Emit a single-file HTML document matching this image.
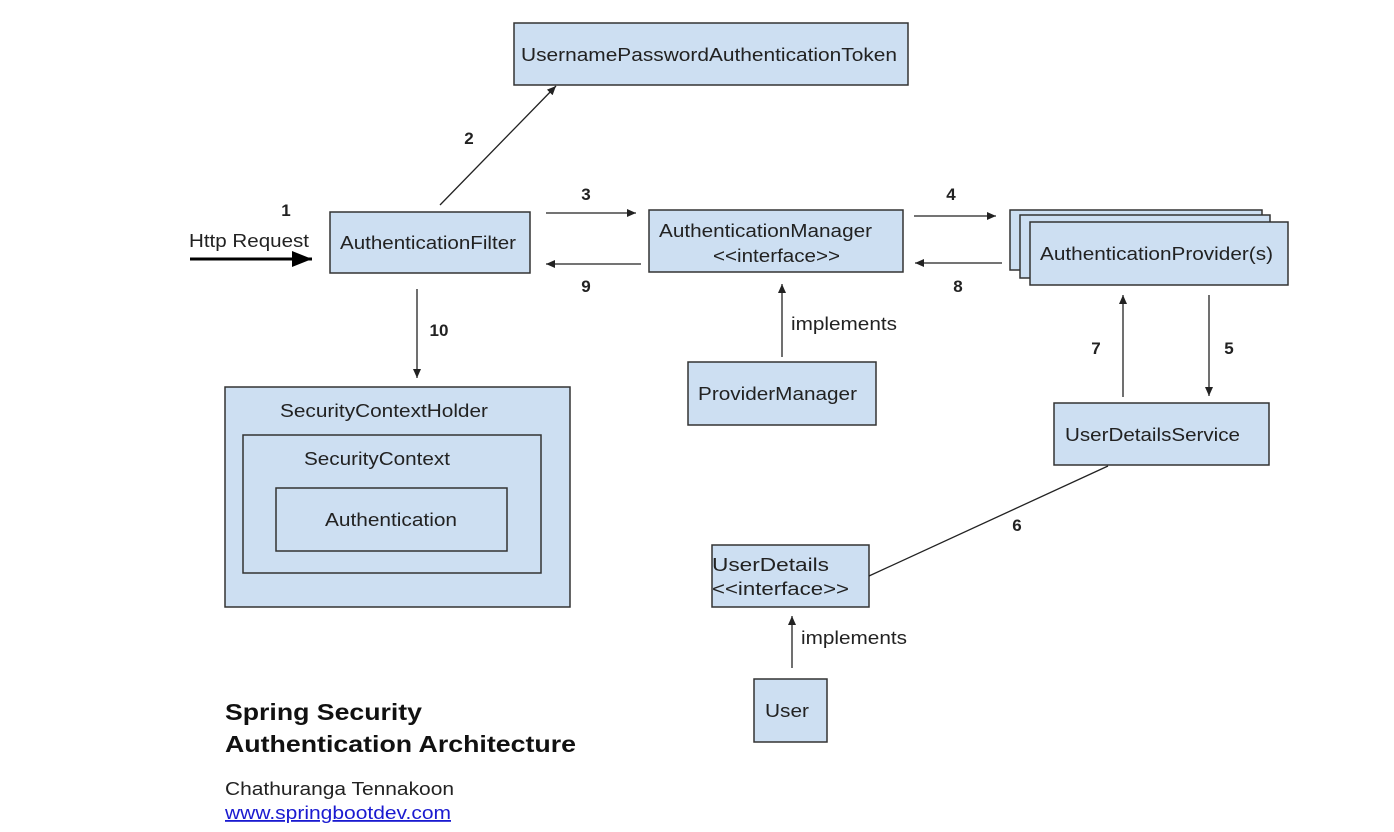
<!DOCTYPE html>
<html><head><meta charset="utf-8"><style>
html,body{margin:0;padding:0;background:#fff;}
svg{display:block;font-family:"Liberation Sans",Arial,sans-serif;}
</style></head><body>
<svg width="1394" height="832" viewBox="0 0 1394 832" xmlns="http://www.w3.org/2000/svg">
<defs>
<marker id="a" markerWidth="10" markerHeight="8" refX="9" refY="4" orient="auto" markerUnits="userSpaceOnUse"><path d="M0,0 L9,4 L0,8 z" fill="#222"/></marker>
<marker id="b" markerWidth="22" markerHeight="16" refX="20" refY="8" orient="auto" markerUnits="userSpaceOnUse"><path d="M0,0 L20,8 L0,16 z" fill="#000"/></marker>
</defs>
<g fill="#cddff2" stroke="#333" stroke-width="1.5">
<rect x="514" y="23" width="394" height="62"/>
<rect x="330" y="212" width="200" height="61"/>
<rect x="649" y="210" width="254" height="62"/>
<rect x="1010" y="210" width="252" height="60"/>
<rect x="1020" y="215" width="250" height="63"/>
<rect x="1030" y="222" width="258" height="63"/>
<rect x="688" y="362" width="188" height="63"/>
<rect x="1054" y="403" width="215" height="62"/>
<rect x="712" y="545" width="157" height="62"/>
<rect x="754" y="679" width="73" height="63"/>
<rect x="225" y="387" width="345" height="220"/>
<rect x="243" y="435" width="298" height="138"/>
<rect x="276" y="488" width="231" height="63"/>
</g>
<g stroke="#222" stroke-width="1.3" fill="none" marker-end="url(#a)">
<line x1="440" y1="205" x2="556" y2="86"/>
<line x1="546" y1="213" x2="636" y2="213"/>
<line x1="641" y1="264" x2="546" y2="264"/>
<line x1="914" y1="216" x2="996" y2="216"/>
<line x1="1002" y1="263" x2="915" y2="263"/>
<line x1="782" y1="357" x2="782" y2="284"/>
<line x1="417" y1="289" x2="417" y2="378"/>
<line x1="1123" y1="397" x2="1123" y2="295"/>
<line x1="1209" y1="295" x2="1209" y2="396"/>
<line x1="792" y1="668" x2="792" y2="616"/>
</g>
<line x1="869" y1="576" x2="1108" y2="466" stroke="#222" stroke-width="1.3"/>
<line x1="190" y1="259" x2="312" y2="259" stroke="#000" stroke-width="3" marker-end="url(#b)"/>
<g font-size="18" fill="#222" lengthAdjust="spacingAndGlyphs">
<text x="521" y="61" textLength="376" lengthAdjust="spacingAndGlyphs">UsernamePasswordAuthenticationToken</text>
<text x="340" y="249" textLength="176" lengthAdjust="spacingAndGlyphs">AuthenticationFilter</text>
<text x="659" y="237" textLength="213" lengthAdjust="spacingAndGlyphs">AuthenticationManager</text>
<text x="713" y="262" textLength="127" lengthAdjust="spacingAndGlyphs">&lt;&lt;interface&gt;&gt;</text>
<text x="1040" y="260" textLength="233" lengthAdjust="spacingAndGlyphs">AuthenticationProvider(s)</text>
<text x="698" y="400" textLength="159" lengthAdjust="spacingAndGlyphs">ProviderManager</text>
<text x="1065" y="441" textLength="175" lengthAdjust="spacingAndGlyphs">UserDetailsService</text>
<text x="712" y="571" textLength="117" lengthAdjust="spacingAndGlyphs">UserDetails</text>
<text x="712" y="595" textLength="137" lengthAdjust="spacingAndGlyphs">&lt;&lt;interface&gt;&gt;</text>
<text x="765" y="717" textLength="44" lengthAdjust="spacingAndGlyphs">User</text>
<text x="280" y="417" textLength="208" lengthAdjust="spacingAndGlyphs">SecurityContextHolder</text>
<text x="304" y="465" textLength="146" lengthAdjust="spacingAndGlyphs">SecurityContext</text>
<text x="325" y="526" textLength="132" lengthAdjust="spacingAndGlyphs">Authentication</text>
<text x="189" y="247" textLength="120" lengthAdjust="spacingAndGlyphs">Http Request</text>
<text x="791" y="330" textLength="106" lengthAdjust="spacingAndGlyphs">implements</text>
<text x="801" y="644" textLength="106" lengthAdjust="spacingAndGlyphs">implements</text>
</g>
<g font-size="17" font-weight="bold" fill="#222" text-anchor="middle">
<text x="286" y="216">1</text>
<text x="469" y="144">2</text>
<text x="586" y="200">3</text>
<text x="586" y="292">9</text>
<text x="951" y="200">4</text>
<text x="958" y="292">8</text>
<text x="439" y="336">10</text>
<text x="1096" y="354">7</text>
<text x="1229" y="354">5</text>
<text x="1017" y="531">6</text>
</g>
<text x="225" y="720" font-size="23" font-weight="bold" fill="#111" textLength="197" lengthAdjust="spacingAndGlyphs">Spring Security</text>
<text x="225" y="752" font-size="23" font-weight="bold" fill="#111" textLength="351" lengthAdjust="spacingAndGlyphs">Authentication Architecture</text>
<text x="225" y="795" font-size="18" fill="#222" textLength="229" lengthAdjust="spacingAndGlyphs">Chathuranga Tennakoon</text>
<text x="225" y="819" font-size="18" fill="#1a1ad0" text-decoration="underline" textLength="226" lengthAdjust="spacingAndGlyphs">www.springbootdev.com</text>
</svg>
</body></html>
